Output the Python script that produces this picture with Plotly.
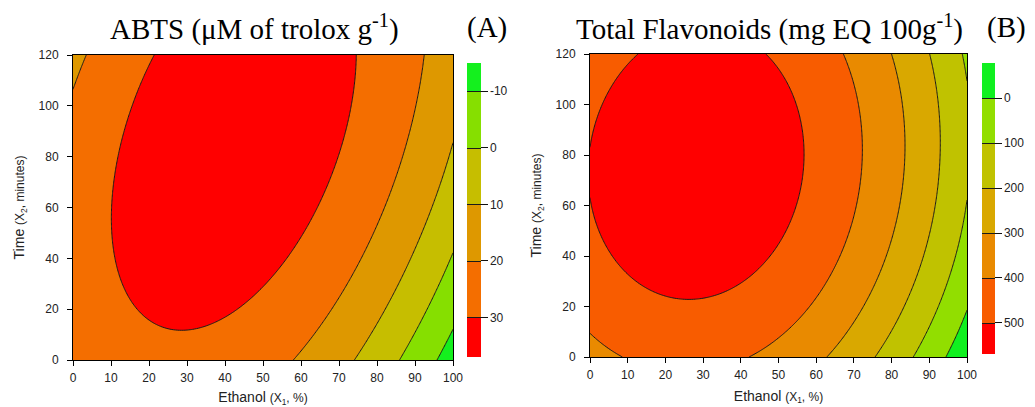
import numpy as np
import plotly.graph_objects as go

# ---------------- data ----------------
ETHANOL_TICKS = [0, 10, 20, 30, 40, 50, 60, 70, 80, 90, 100]
TIME_TICKS = [0, 20, 40, 60, 80, 100, 120]

# (A) ABTS: contour levels and points traced on the drawn contour lines
ABTS_LEVELS = [-10, 0, 10, 20, 30]
ABTS_PT_X = [22.0, 16.8, 13.2, 10.2, 9.6, 10.6, 14.1, 20.3, 29.0, 41.3, 51.8, 60.6, 65.9, 70.3, 72.9, 73.9, 74.2,
             4.0, 0.0, 91.8, 90.9, 87.4, 79.9, 70.3, 62.4, 58.9,
             100.0, 95.7, 86.9, 80.8, 74.6,
             100.0, 92.2, 86.5,
             100.0, 96.1]
ABTS_PT_Y = [120.0, 106.2, 89.2, 72.1, 59.0, 43.3, 30.2, 17.0, 10.8, 18.4, 30.2, 43.3, 56.4, 72.1, 89.2, 108.9, 120.0,
             120.0, 106.2, 120.0, 102.3, 82.6, 56.4, 30.2, 10.5, 0.0,
             82.0, 66.9, 43.3, 22.3, 0.0,
             40.0, 18.4, 0.0,
             9.2, 0.0]
ABTS_PT_Z = [30] * 17 + [20] * 9 + [10] * 5 + [0] * 3 + [-10] * 2
ABTS_CBAR_RANGE = [-14.6, 37.0]
ABTS_COLORS = ['#FF0000', '#F46E00', '#DE9800', '#C6BE00', '#86DF00', '#14F01E']  # high -> low

# (B) Total flavonoids
FLAV_LEVELS = [0, 100, 200, 300, 400, 500]
FLAV_PT_X = [11.9, 5.7, 1.8, 0.0, 0.0, 1.3, 4.0, 9.3, 16.4, 26.1, 35.8, 44.7, 51.7, 55.7, 56.6, 55.3, 51.7, 46.9,
             0.0, 4.0, 8.8, 67.6, 70.7, 71.9, 71.2, 68.5, 63.2, 54.4, 42.0,
             80.0, 83.1, 83.6, 82.2, 78.2, 71.2, 62.8,
             90.2, 92.4, 91.5, 86.2, 75.6,
             99.0, 100.0, 100.0, 94.2, 85.8,
             100.0, 94.2]
FLAV_PT_Y = [120.0, 105.7, 92.5, 85.0, 63.0, 49.0, 43.7, 34.5, 27.2, 23.2, 25.9, 35.8, 50.3, 66.1, 82.0, 95.2, 108.4, 120.0,
             10.0, 4.1, 0.0, 120.0, 101.8, 82.0, 66.1, 49.0, 29.2, 13.3, 0.0,
             120.0, 95.2, 75.4, 55.6, 35.8, 16.0, 0.0,
             120.0, 82.0, 55.6, 29.2, 0.0,
             120.0, 108.4, 64.8, 29.2, 0.0,
             18.6, 0.0]
FLAV_PT_Z = [500] * 18 + [400] * 11 + [300] * 7 + [200] * 5 + [100] * 5 + [0] * 2
FLAV_CBAR_RANGE = [-78.0, 569.0]
FLAV_COLORS = ['#FF0000', '#F85C00', '#E98A00', '#D9A800', '#C0C200', '#92DE00', '#10F020']  # high -> low


# ---------------- quadratic response surface from the traced points ----------------
def design(x, y):
    x = np.asarray(x, float)
    y = np.asarray(y, float)
    return np.column_stack([np.ones_like(x), x, y, x * x, y * y, x * y])


def surface(px, py, pz, gx, gy):
    coef, *_ = np.linalg.lstsq(design(px, py), np.asarray(pz, float), rcond=None)
    GX, GY = np.meshgrid(gx, gy)
    return (design(GX.ravel(), GY.ravel()) @ coef).reshape(GX.shape)


gx = np.linspace(0, 100, 201)
gy = np.linspace(0, 120, 241)
ZA = surface(ABTS_PT_X, ABTS_PT_Y, ABTS_PT_Z, gx, gy)
ZB = surface(FLAV_PT_X, FLAV_PT_Y, FLAV_PT_Z, gx, gy)

W, H = 1035, 407
SANS = 'Liberation Sans, Arial, sans-serif'
SERIF = 'Liberation Serif, Times New Roman, serif'


def scale(colors):
    n = len(colors) - 1
    return [[i / n, c] for i, c in enumerate(colors)]


def contour(z, levels, colors, cbar_range, xa, ya, cb_x, cb_y0, cb_y1, cb_w):
    # values are negated so that the colour bar reads high values at the bottom
    step = levels[1] - levels[0]
    return go.Contour(
        x=gx, y=gy, z=-z, xaxis=xa, yaxis=ya,
        autocontour=False,
        contours=dict(start=-levels[-1], end=-levels[0], size=step, coloring='fill', showlines=True),
        colorscale=scale(colors),
        zmin=-cbar_range[1], zmax=-cbar_range[0],
        line=dict(color='#1a1a1a', width=1, smoothing=1),
        hoverinfo='skip',
        colorbar=dict(
            x=cb_x / W, xanchor='left', xpad=0, ypad=0,
            y=1 - (cb_y0 + cb_y1) / 2 / H, yanchor='middle',
            len=(cb_y1 - cb_y0) / H, lenmode='fraction',
            thickness=cb_w, thicknessmode='pixels',
            outlinewidth=0,
            tickmode='array',
            tickvals=[-v for v in levels],
            ticktext=[str(v) for v in levels],
            ticks='outside', ticklen=7, tickcolor='#111', tickwidth=1,
            tickfont=dict(family=SANS, size=12, color='#222'),
        ),
    )


fig = go.Figure()
fig.add_trace(contour(ZA, ABTS_LEVELS, ABTS_COLORS, ABTS_CBAR_RANGE, 'x', 'y', 467, 63, 357, 14))
fig.add_trace(contour(ZB, FLAV_LEVELS, FLAV_COLORS, FLAV_CBAR_RANGE, 'x2', 'y2', 982, 63, 354, 13))

axis_common = dict(
    showline=True, linecolor='black', linewidth=1, mirror=True,
    ticks='outside', ticklen=5, tickcolor='black', tickwidth=1,
    showgrid=False, zeroline=False,
    tickfont=dict(family=SANS, size=12, color='#222'),
    tickmode='array',
)
xtitle = dict(text="Ethanol <span style='font-size:12px'>(X<sub>1</sub>, %)</span>",
              font=dict(family=SANS, size=14, color='#222'), standoff=9)
ytitle = dict(text="Time <span style='font-size:12px'>(X<sub>2</sub>, minutes)</span>",
              font=dict(family=SANS, size=14, color='#222'), standoff=10)

fig.update_layout(
    width=W, height=H, autosize=False,
    margin=dict(l=0, r=0, t=0, b=0, pad=0, autoexpand=False),
    paper_bgcolor='white', plot_bgcolor='white',
    showlegend=False,
    xaxis=dict(axis_common, domain=[73 / W, 453 / W], range=[0, 100], tickvals=ETHANOL_TICKS,
               anchor='y', title=xtitle, ticklabelstandoff=2),
    yaxis=dict(axis_common, domain=[(H - 360) / H, (H - 55) / H], range=[0, 120], tickvals=TIME_TICKS,
               anchor='x', title=ytitle, ticklabelstandoff=6),
    xaxis2=dict(axis_common, domain=[590 / W, 967 / W], range=[0, 100], tickvals=ETHANOL_TICKS,
                anchor='y2', title=xtitle, ticklabelstandoff=2),
    yaxis2=dict(axis_common, domain=[(H - 357) / H, (H - 54) / H], range=[0, 120], tickvals=TIME_TICKS,
                anchor='x2', title=ytitle, ticklabelstandoff=6),
    annotations=[
        dict(text='ABTS (μM of trolox g<sup>-1</sup>)', x=254.5 / W, y=1 - 27 / H, xref='paper', yref='paper',
             xanchor='center', yanchor='middle', showarrow=False, font=dict(family=SERIF, size=29, color='black')),
        dict(text='(A)', x=487 / W, y=1 - 27 / H, xref='paper', yref='paper',
             xanchor='center', yanchor='middle', showarrow=False, font=dict(family=SERIF, size=29, color='black')),
        dict(text='Total Flavonoids (mg EQ 100g<sup>-1</sup>)', x=769 / W, y=1 - 27 / H, xref='paper', yref='paper',
             xanchor='center', yanchor='middle', showarrow=False, font=dict(family=SERIF, size=29, color='black')),
        dict(text='(B)', x=1006 / W, y=1 - 27 / H, xref='paper', yref='paper',
             xanchor='center', yanchor='middle', showarrow=False, font=dict(family=SERIF, size=29, color='black')),
    ],
)

fig.write_html('out.html', config={'displayModeBar': False},
               post_script="document.body.style.margin='0';document.body.style.overflow='hidden';")
